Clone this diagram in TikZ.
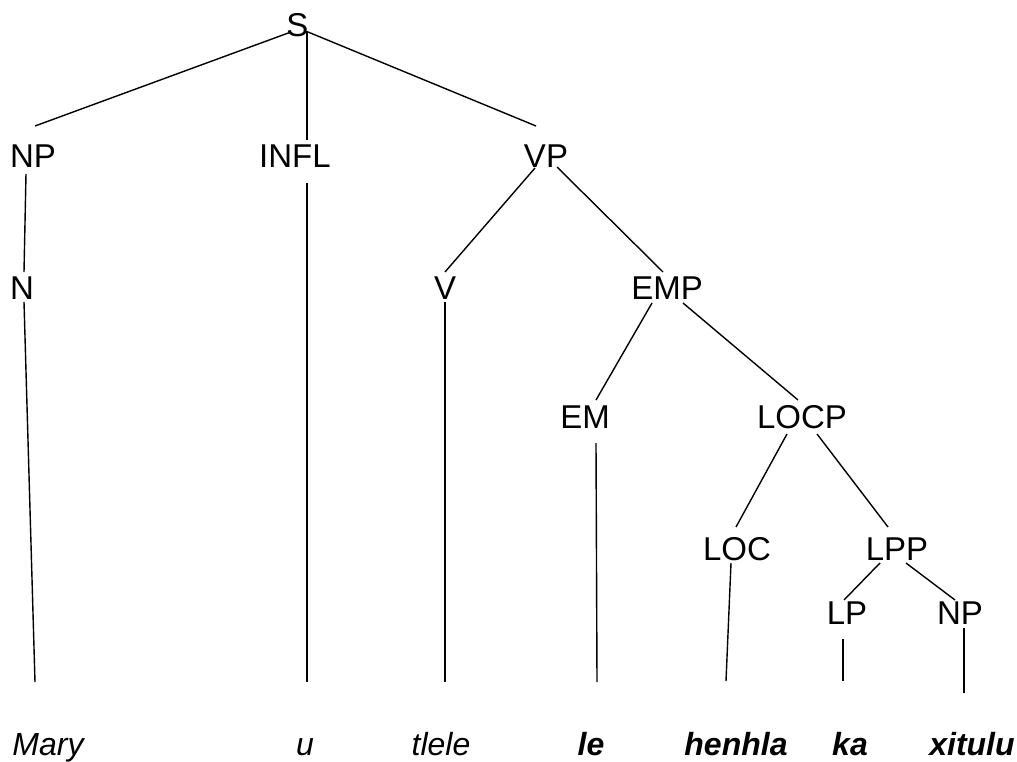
\documentclass[tikz,border=0pt]{standalone}
\usepackage{fontspec}
\setmainfont{Liberation Sans}
\usetikzlibrary{calc}
\begin{document}
\begin{tikzpicture}[x=1pt,y=-1pt,
  cat/.style={anchor=base,inner sep=0pt,font=\fontsize{33}{40}\selectfont},
  word/.style={anchor=base,inner sep=0pt,font=\fontsize{32}{38}\selectfont\itshape},
  focus/.style={anchor=base,inner sep=0pt,font=\fontsize{32}{38}\selectfont\bfseries\itshape},
  branch/.style={line width=1.4pt}]
\useasboundingbox (0,0) rectangle (1017,762);

% category labels
\node[cat] (S)    at (297.5,37) {S};
\node[cat] (NP1)  at (33,168)   {NP};
\node[cat] (INFL) at (295,168)  {INFL};
\node[cat] (VP)   at (546,168)  {VP};
\node[cat] (N)    at (22,299)   {N};
\node[cat] (V)    at (445,299)  {V};
\node[cat] (EMP)  at (667,299)  {EMP};
\node[cat] (EM)   at (585,428)  {EM};
\node[cat] (LOCP) at (802,428)  {LOCP};
\node[cat] (LOC)  at (737,560)  {LOC};
\node[cat] (LPP)  at (897,560)  {LPP};
\node[cat] (LP)   at (847,624)  {LP};
\node[cat] (NP2)  at (960,624)  {NP};

% the sentence
\node[word]  (Mary)   at (48,755)  {Mary};
\node[word]  (u)      at (305,755) {u};
\node[word]  (tlele)  at (441,755) {tlele};
\node[focus] (le)     at (591,755) {le};
\node[focus] (henhla) at (736,755) {henhla};
\node[focus] (ka)     at (850,755) {ka};
\node[focus] (xitulu) at (972,755) {xitulu};

% branches
\draw[branch] ($(S.base)+(-6.5,-5)$) -- ($(NP1.base)+(2,-42)$);
\draw[branch] ($(S.base)+(9.5,-6)$)  -- ($(INFL.base)+(12,-28)$);
\draw[branch] ($(S.base)+(10.5,-5)$) -- ($(VP.base)+(-10,-42)$);
\draw[branch] ($(NP1.base)+(-7,6)$)  -- ($(N.base)+(2,-27)$);
\draw[branch] ($(N.base)+(2,3)$)     -- ($(Mary.base)+(-13,-73)$);
\draw[branch] ($(INFL.base)+(12,15)$) -- ($(u.base)+(2,-73)$);
\draw[branch] ($(VP.base)+(-11,0)$)  -- ($(V.base)+(0,-27)$);
\draw[branch] ($(VP.base)+(11,-1)$)  -- ($(EMP.base)+(-4,-27)$);
\draw[branch] ($(V.base)+(0,3)$)     -- ($(tlele.base)+(4,-73)$);
\draw[branch] ($(EMP.base)+(-15,4)$) -- ($(EM.base)+(11,-28)$);
\draw[branch] ($(EMP.base)+(16,4)$)  -- ($(LOCP.base)+(-4,-28)$);
\draw[branch] ($(EM.base)+(11,15)$)  -- ($(le.base)+(6,-73)$);
\draw[branch] ($(LOCP.base)+(-15,6)$) -- ($(LOC.base)+(-1,-33)$);
\draw[branch] ($(LOCP.base)+(15,6)$) -- ($(LPP.base)+(-9,-33)$);
\draw[branch] ($(LOC.base)+(-6,3)$)  -- ($(henhla.base)+(-10,-74)$);
\draw[branch] ($(LPP.base)+(-17,3)$) -- ($(LP.base)+(-3,-24)$);
\draw[branch] ($(LPP.base)+(9,3)$)   -- ($(NP2.base)+(-5,-24)$);
\draw[branch] ($(LP.base)+(-4,15)$)  -- ($(ka.base)+(-7,-74)$);
\draw[branch] ($(NP2.base)+(4,4)$)   -- ($(xitulu.base)+(-8,-62)$);
\end{tikzpicture}
\end{document}
